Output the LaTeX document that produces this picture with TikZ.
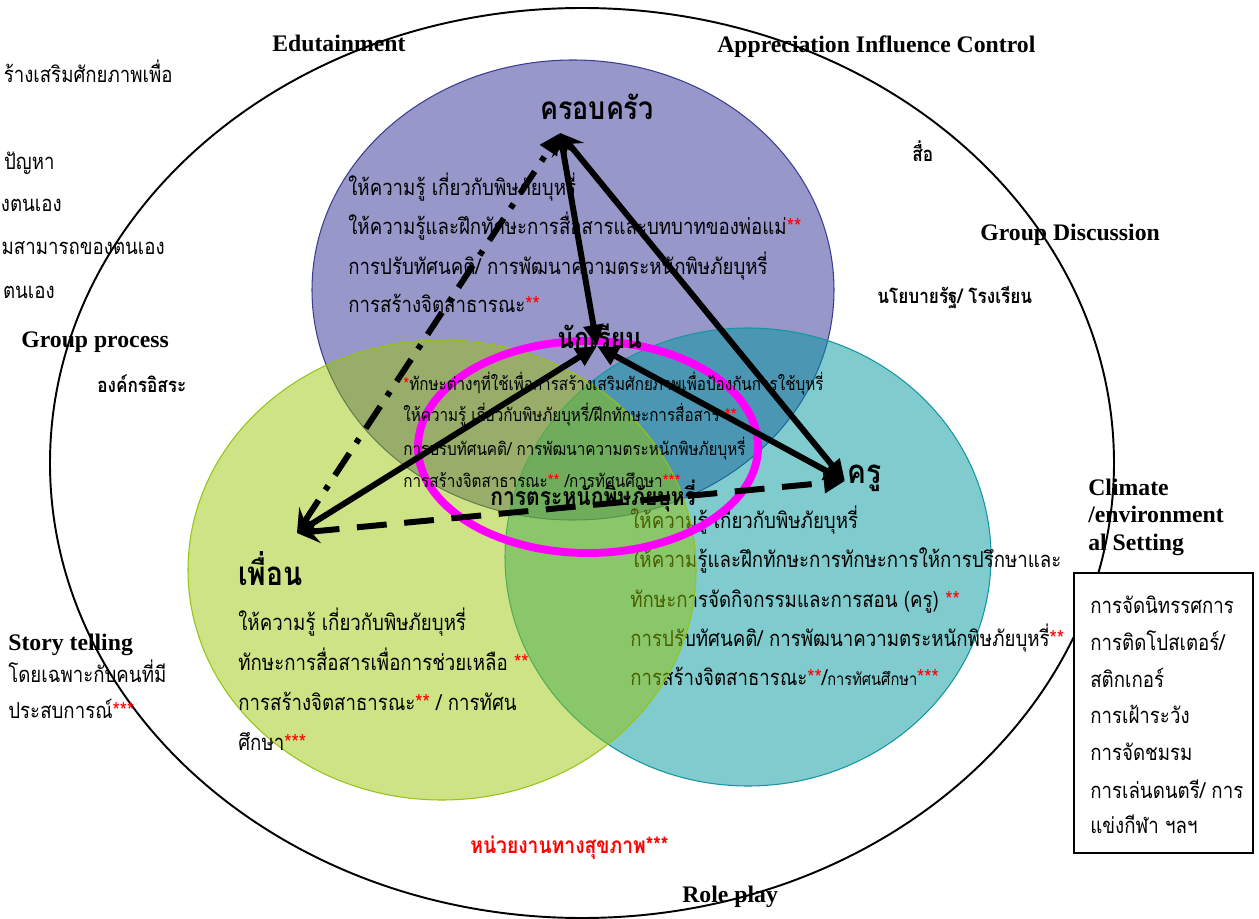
\documentclass[tikz,border=0pt]{standalone}
\usepackage{fontspec}
\setmainfont{Liberation Serif}
\newfontfamily\thaifont[Script=Thai, FakeStretch=0.85]{Loma}
\usetikzlibrary{positioning,arrows.meta}
\definecolor{famfill}{RGB}{152,151,202}
\definecolor{famline}{RGB}{60,60,150}
\definecolor{teafill}{RGB}{0,151,157}
\definecolor{tealine}{RGB}{20,150,160}
\definecolor{frdfill}{RGB}{151,197,0}
\definecolor{frdline}{RGB}{150,195,20}
\definecolor{ringcol}{RGB}{255,0,255}
\definecolor{starred}{RGB}{255,0,0}
\newcommand{\stars}[1]{\textcolor{starred}{#1}}

\begin{document}
\begin{tikzpicture}[x=0.02cm, y=-0.02cm,
  body/.style={anchor=base west, inner sep=0pt, font=\thaifont\fontsize{12.5}{14}\selectfont},
  core/.style={anchor=base west, inner sep=0pt, font=\thaifont\fontsize{10.2}{12}\selectfont},
  leftcut/.style={anchor=base east, inner sep=0pt, font=\thaifont\fontsize{12.5}{14}\selectfont},
  actor/.style={anchor=base west, inner sep=0pt, font=\thaifont\bfseries\fontsize{18.8}{21}\selectfont},
  tag/.style={anchor=base west, inner sep=0pt, font=\bfseries\fontsize{13.5}{16}\selectfont},
  thtag/.style={anchor=base west, inner sep=0pt, font=\thaifont\bfseries\fontsize{11.5}{13}\selectfont},
  link/.style={line width=3.4pt, {Triangle[length=12pt,width=11pt]}-{Triangle[length=12pt,width=11pt]}},
  openlink/.style={line width=3.4pt, {Stealth[length=13pt,width=14pt,inset=5pt]}-{Triangle[length=12pt,width=11pt]}},
]
\useasboundingbox (0,0) rectangle (1259,919);

% outer field
\draw[line width=1.1pt] (582,463) ellipse [x radius=532, y radius=455];

% three zones
\path[fill=famfill, draw=famline, line width=0.6pt] (573,290) ellipse [x radius=261, y radius=230];
\path[fill=teafill, fill opacity=0.5, draw=tealine, line width=0.6pt] (748,557) ellipse [x radius=243, y radius=229];

% teacher lines (under the friend zone)
\node[body] (tea1) at (630,528) {ให้ความรู้ เกี่ยวกับพิษภัยบุหรี่};
\node[body] (tea2) at (630,567) {ให้ความรู้และฝึกทักษะการทักษะการให้การปรึกษาและ};
\node[body] (tea3) at (630,607) {ทักษะการจัดกิจกรรมและการสอน (ครู) \stars{**}};
\node[body] (tea4) at (630,646) {การปรับทัศนคติ/ การพัฒนาความตระหนักพิษภัยบุหรี่\stars{**}};
\node[body] (tea5) at (630,685) {การสร้างจิตสาธารณะ\stars{**}/{\fontsize{9.8}{11}\selectfont การทัศนศึกษา}\stars{***}};

\path[fill=frdfill, fill opacity=0.48, draw=frdline, line width=0.6pt] (442,570) ellipse [x radius=254, y radius=230];

\draw[ringcol, line width=4.5pt] (588,447) ellipse [x radius=170, y radius=106];

% actors
\node[actor, font=\thaifont\bfseries\fontsize{18}{21}\selectfont] (fam) at (540,120) {ครอบครัว};
\node[actor, font=\thaifont\bfseries\fontsize{16.5}{19}\selectfont] (stu) at (557,348) {นักเรียน};
\node[actor] (tea) at (847,483) {ครู};
\node[actor] (frd) at (238,585) {เพื่อน};
\node[anchor=base west, inner sep=0pt, font=\thaifont\bfseries\fontsize{14.1}{16}\selectfont]
  (aware) at (490,505) {การตระหนักพิษภัยบุหรี่};

% family lines
\node[body] (fam1) at (348,195) {ให้ความรู้ เกี่ยวกับพิษภัยบุหรี่};
\node[body] (fam2) at (348,235) {ให้ความรู้และฝึกทักษะการสื่อสารและบทบาทของพ่อแม่\stars{**}};
\node[body] (fam3) at (348,275) {การปรับทัศนคติ/ การพัฒนาความตระหนักพิษภัยบุหรี่};
\node[body] (fam4) at (348,313) {การสร้างจิตสาธารณะ\stars{**}};

% shared core lines
\node[core] (core1) at (403,390) {\stars{*}ทักษะต่างๆที่ใช้เพื่อการสร้างเสริมศักยภาพเพื่อป้องกันการใช้บุหรี่};
\node[core] (core2) at (403,421) {ให้ความรู้ เกี่ยวกับพิษภัยบุหรี่/ฝึกทักษะการสื่อสาร \stars{**}};
\node[core] (core3) at (403,455) {การปรับทัศนคติ/ การพัฒนาความตระหนักพิษภัยบุหรี่};
\node[core] (core4) at (403,487) {การสร้างจิตสาธารณะ\stars{**} /การทัศนศึกษา\stars{***}};

% friend lines
\node[body] (frd1) at (238,630) {ให้ความรู้ เกี่ยวกับพิษภัยบุหรี่};
\node[body] (frd2) at (238,670) {ทักษะการสื่อสารเพื่อการช่วยเหลือ \stars{**}};
\node[body] (frd3) at (238,710) {การสร้างจิตสาธารณะ\stars{**} / การทัศน};
\node[body] (frd4) at (238,750) {ศึกษา\stars{***}};

% left margin (cut by the page edge)
\node[leftcut] (cut1) at (173,83) {ร้างเสริมศักยภาพเพื่อ};
\node[leftcut] (cut2) at (55,170) {ปัญหา};
\node[leftcut] (cut3) at (62,212) {งตนเอง};
\node[leftcut] (cut4) at (165,255) {มสามารถของตนเอง};
\node[leftcut] (cut5) at (55,298) {ตนเอง};

% methods and channels
\node[tag] (edu) at (272,52) {Edutainment};
\node[tag] (aic) at (717,53) {Appreciation Influence Control};
\node[thtag] (media) at (912,162) {สื่อ};
\node[tag] (gdis) at (980,240) {Group Discussion};
\node[thtag] (policy) at (877,303) {นโยบายรัฐ/ โรงเรียน};
\node[tag] (gproc) at (21,347) {Group process};
\node[thtag] (ngo) at (97,392) {องค์กรอิสระ};
\node[tag] (story) at (8,650) {Story telling};
\node[body] (story1) at (8,682) {โดยเฉพาะกับคนที่มี};
\node[body] (story2) at (8,718) {ประสบการณ์\stars{***}};
\node[anchor=base west, inner sep=0pt, font=\thaifont\bfseries\fontsize{12.9}{15}\selectfont, text=starred]
  (health) at (470,853) {หน่วยงานทางสุขภาพ***};
\node[tag] (role) at (682,902) {Role play};
\node[tag] (clim1) at (1088,495) {Climate};
\node[tag] (clim2) at (1088,522) {/environment};
\node[tag] (clim3) at (1088,550) {al Setting};

% setting box
\node[draw, line width=1.1pt, fill=white, anchor=north west, minimum width=3.58cm, minimum height=5.6cm]
  (setbox) at (1073,572) {};
\node[body] (set1) at (1090,613) {การจัดนิทรรศการ};
\node[body] (set2) at (1090,650) {การติดโปสเตอร์/};
\node[body] (set3) at (1090,687) {สติกเกอร์};
\node[body] (set4) at (1090,723) {การเฝ้าระวัง};
\node[body] (set5) at (1090,760) {การจัดชมรม};
\node[body] (set6) at (1090,798) {การเล่นดนตรี/ การ};
\node[body] (set7) at (1090,833) {แข่งกีฬา ฯลฯ};

% arrow ends
\coordinate (famtip) at (560,133);
\coordinate (stutip) at (597,346);
\coordinate (teatip) at (845,481);
\coordinate (frdtip) at (297,533);

\draw[openlink] (famtip) -- (stutip);
\draw[openlink] (famtip) -- (teatip);
\draw[link] (stutip) -- (teatip);
\draw[openlink] (frdtip) -- (stutip);
\draw[openlink, dash pattern=on 17pt off 10pt] (frdtip) -- (teatip);
\draw[openlink, dash pattern=on 15pt off 7pt on 3pt off 7pt] (frdtip) -- (famtip);
\end{tikzpicture}
\end{document}
